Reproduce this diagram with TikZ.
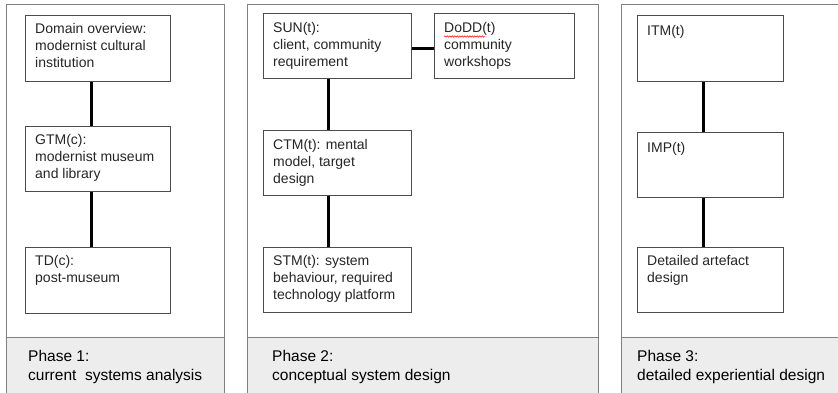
\documentclass[tikz,border=0pt]{standalone}
\usepackage{fontspec}
\setmainfont{Liberation Sans}
\usetikzlibrary{decorations.pathmorphing}

\begin{document}
\begin{tikzpicture}[x=1pt,y=-1pt,
  panelline/.style={draw=black!50,line width=0.9pt},
  band/.style={fill=black!7},
  box/.style={draw=black!70,line width=0.9pt,fill=white,anchor=north west,inner sep=0pt},
  % text sits at the top left of its box; the strut fixes the first line's height
  boxtext/.style={anchor=north west,inner sep=0pt,align=left,text=black!85,
    font=\fontsize{14}{17}\selectfont,execute at begin node=\strut},
  phasetext/.style={anchor=north west,inner sep=0pt,align=left,text=black,
    font=\fontsize{15.5}{19}\selectfont,execute at begin node=\strut},
  conn/.style={draw=black,line width=2.6pt}]
\useasboundingbox (0,0) rectangle (838,392);

% three phase panels, grey caption band at the bottom
\fill[band] (6,337) rectangle (224,400);
\fill[band] (247,337) rectangle (598,400);
\fill[band] (621,337) rectangle (850,400);
\draw[panelline] (6,400) -- (6,4) -- (224,4) -- (224,400);
\draw[panelline] (247,400) -- (247,4) -- (598,4) -- (598,400);
\draw[panelline] (621,400) -- (621,4) -- (850,4);
\draw[panelline] (6,337) -- (224,337);
\draw[panelline] (247,337) -- (598,337);
\draw[panelline] (621,337) -- (850,337);

% phase 1
\node[box,minimum width=145,minimum height=66] (dom) at (25,15) {};
\node[box,minimum width=145,minimum height=65] (gtm) at (25,126) {};
\node[box,minimum width=145,minimum height=66] (td)  at (25,247) {};
\node[boxtext] (domt) at (35,23) {Domain overview:\\modernist cultural\\institution};
\node[boxtext] (gtmt) at (35,134) {GTM(c):\\modernist museum\\and library};
\node[boxtext] (tdt)  at (35,255) {TD(c):\\post-museum};
\draw[conn] ([xshift=-6.5]dom.south) -- ([xshift=-6.5]gtm.north);
\draw[conn] ([xshift=-6.5]gtm.south) -- ([xshift=-6.5]td.north);
\node[phasetext] (ph1) at (28,350) {Phase 1:\\current\ \ systems analysis};

% phase 2
\node[box,minimum width=148,minimum height=65] (sun)  at (263,13) {};
\node[box,minimum width=140,minimum height=65] (dodd) at (434,13) {};
\node[box,minimum width=148,minimum height=65] (ctm)  at (263,130) {};
\node[box,minimum width=148,minimum height=65] (stm)  at (263,247) {};
\node[boxtext] (sunt)  at (273,22) {SUN(t):\\client, community\\requirement};
\node[boxtext] (doddt) at (444,22) {DoDD(t)\\community\\workshops};
\node[boxtext] (ctmt)  at (273,139) {CTM(t): mental\\model, target\\design};
\node[boxtext] (stmt)  at (273,255) {STM(t): system\\behaviour, required\\technology platform};
\draw[red,line width=0.5pt,decorate,decoration={snake,amplitude=0.7pt,segment length=2.5pt}]
  ([yshift=-14.5]doddt.north west) -- ++(41,0);
\draw[conn] ([xshift=-9]sun.south) -- ([xshift=-9]ctm.north);
\draw[conn] ([xshift=-9]ctm.south) -- ([xshift=-9]stm.north);
\draw[conn] ([yshift=-2.5]sun.east) -- ([yshift=-2.5]dodd.west);
\node[phasetext] (ph2) at (272,350) {Phase 2:\\conceptual system design};

% phase 3
\node[box,minimum width=146,minimum height=66] (itm) at (637,15) {};
\node[box,minimum width=146,minimum height=65] (imp) at (637,132) {};
\node[box,minimum width=146,minimum height=65] (det) at (637,247) {};
\node[boxtext] (itmt) at (647,23) {ITM(t)};
\node[boxtext] (impt) at (647,140) {IMP(t)};
\node[boxtext] (dett) at (647,255) {Detailed artefact\\design};
\draw[conn] ([xshift=-7]itm.south) -- ([xshift=-7]imp.north);
\draw[conn] ([xshift=-7]imp.south) -- ([xshift=-7]det.north);
\node[phasetext] (ph3) at (637,350) {Phase 3:\\detailed experiential design};
\end{tikzpicture}
\end{document}
